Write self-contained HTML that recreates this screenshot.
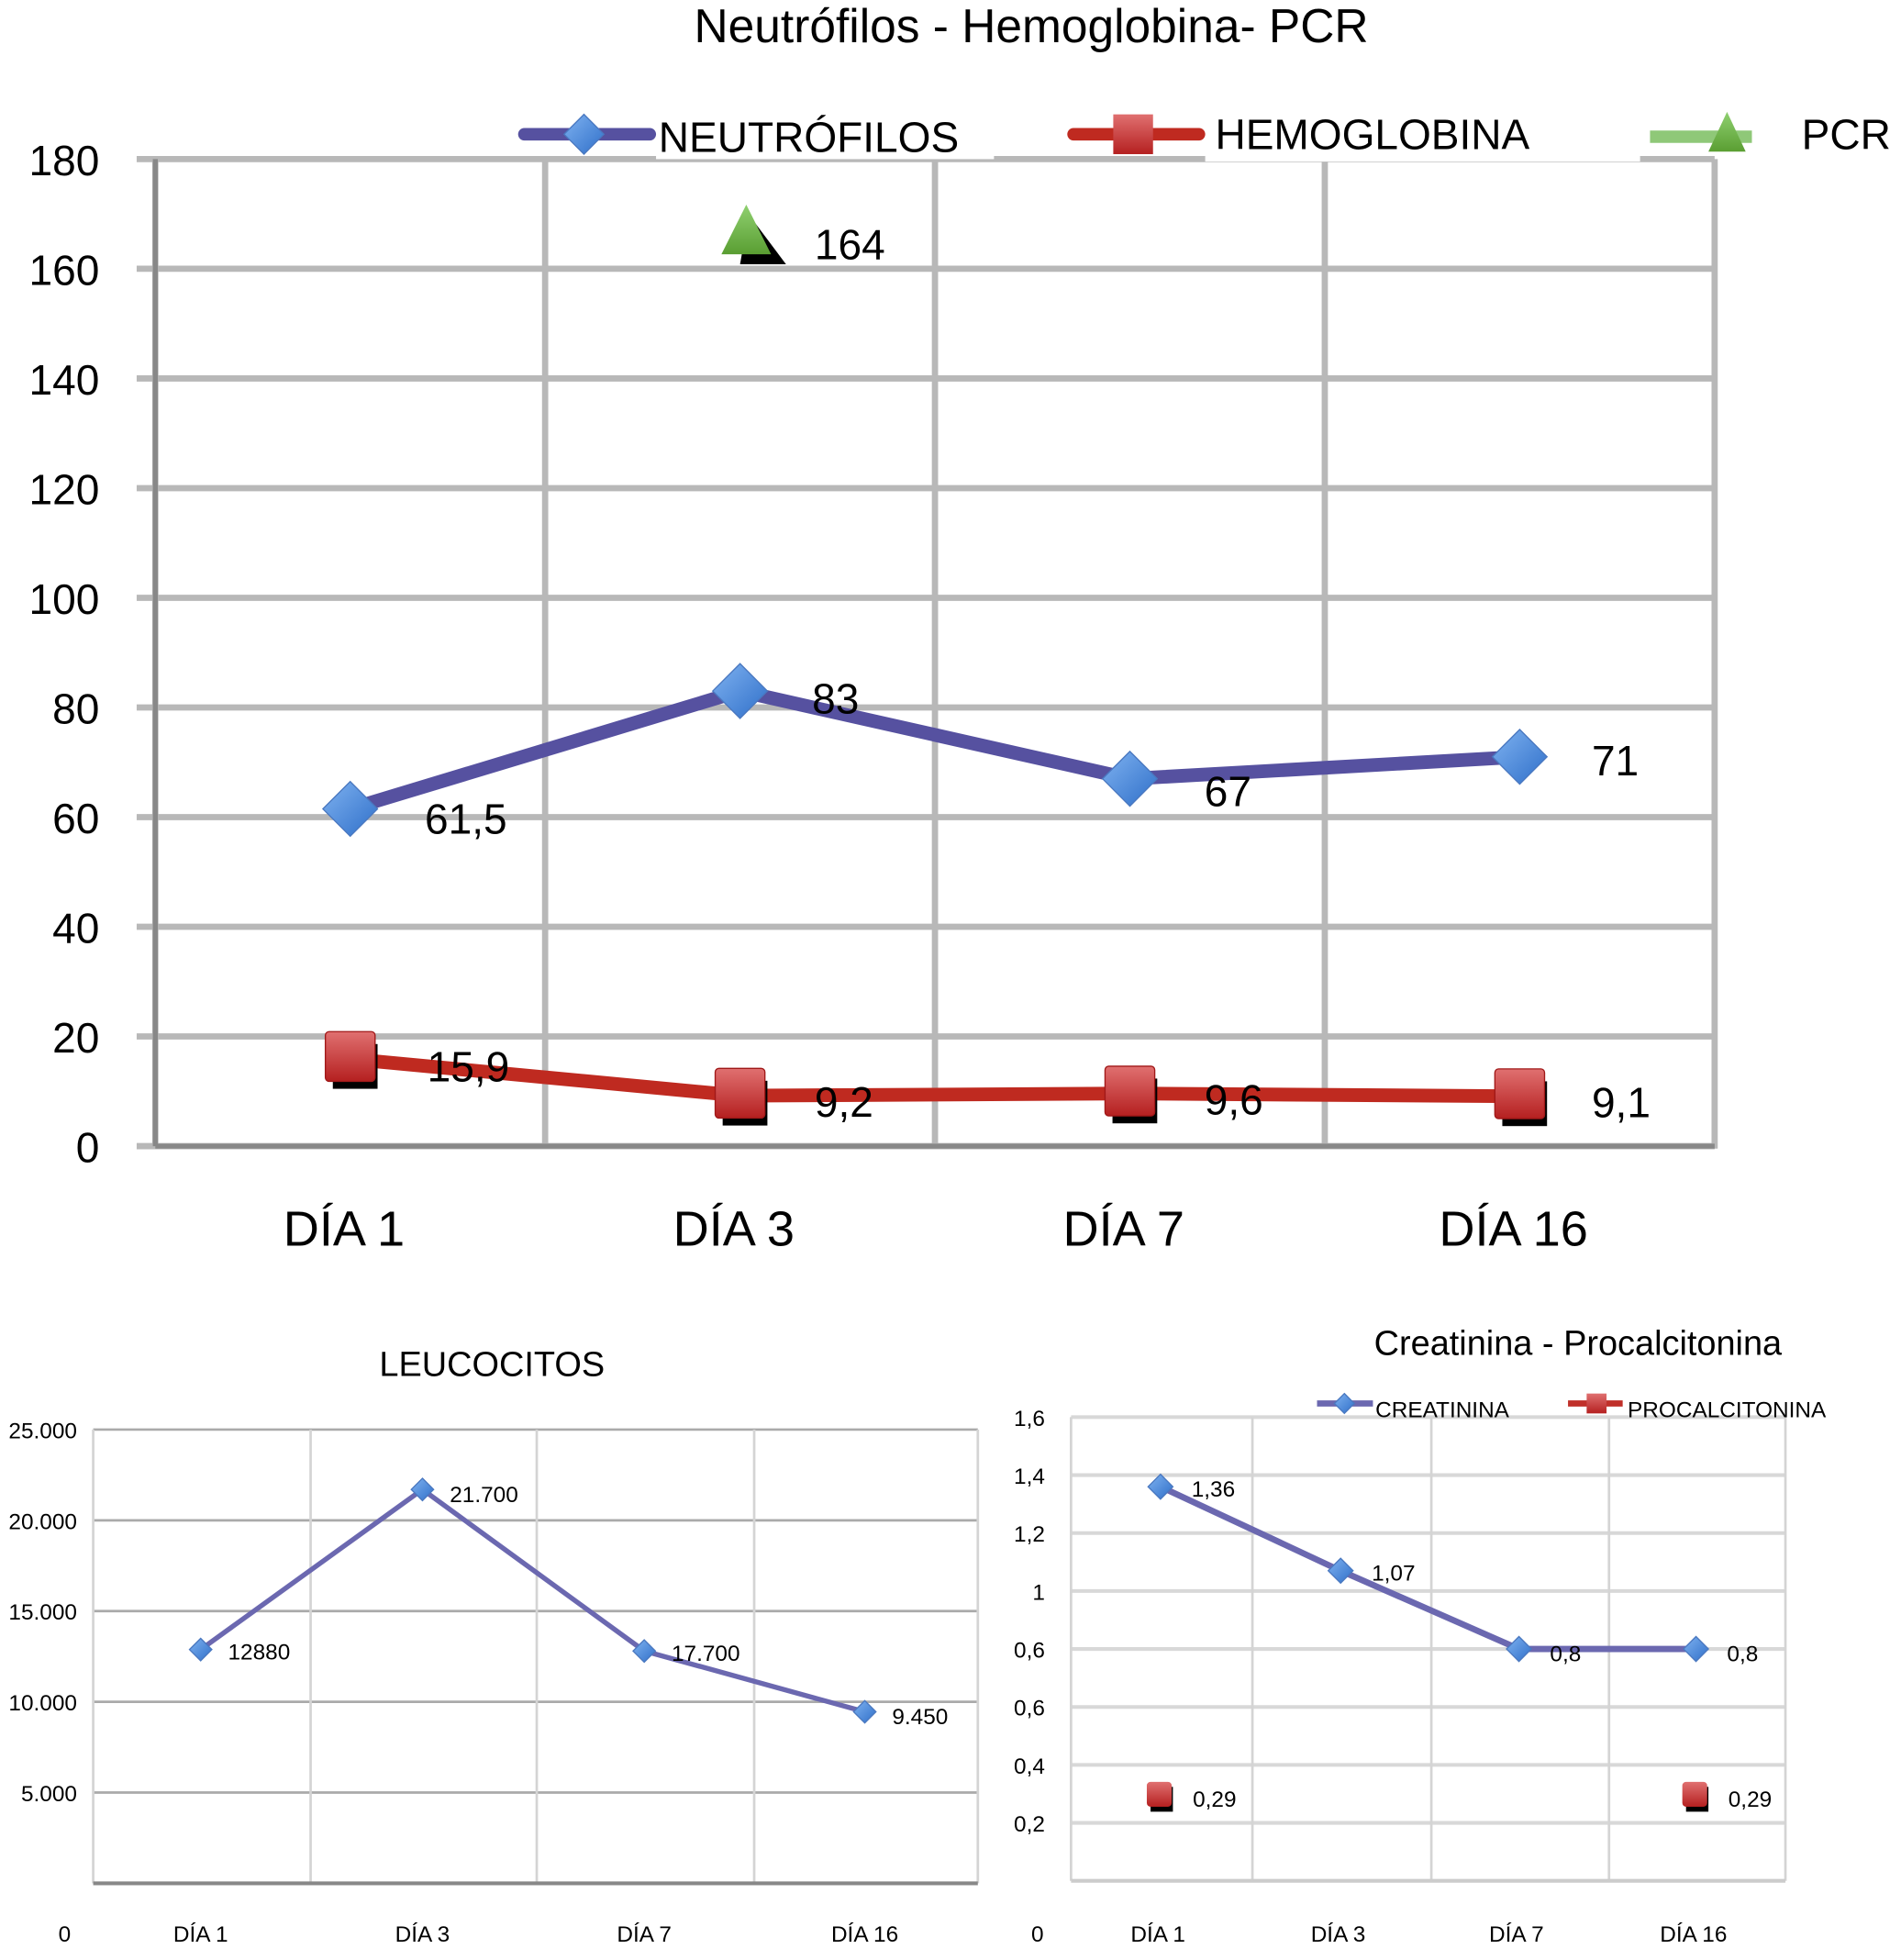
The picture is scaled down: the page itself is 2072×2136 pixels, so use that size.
<!DOCTYPE html>
<html><head><meta charset="utf-8"><style>
html,body{margin:0;padding:0;background:#fff}
svg text{font-family:"Liberation Sans",sans-serif;fill:#000}
</style></head><body>
<svg id="svg" width="2072" height="2131" viewBox="0 0 1530 1573" preserveAspectRatio="none" xmlns="http://www.w3.org/2000/svg">
<defs>
<linearGradient id="gb" x1="0" y1="0" x2="1" y2="1"><stop offset="0" stop-color="#7fb2f0"/><stop offset="1" stop-color="#2f6fc9"/></linearGradient>
<linearGradient id="gr" x1="0" y1="0" x2="0" y2="1"><stop offset="0" stop-color="#e07070"/><stop offset="1" stop-color="#b52020"/></linearGradient>
<linearGradient id="gg" x1="0" y1="0" x2="0" y2="1"><stop offset="0" stop-color="#8fd070"/><stop offset="1" stop-color="#5a9e32"/></linearGradient>
</defs>
<g id="g1"></g>
<g id="g2"></g>
<g id="g3"></g>
</svg>
<script>
const cats=["DÍA 1","DÍA 3","DÍA 7","DÍA 16"];
const neutVals=[61.5,83,67,71];
const neutLabels=["61,5","83","67","71"];
const hemoVals=[15.9,9.2,9.6,9.1];
const hemoLabels=["15,9","9,2","9,6","9,1"];
const pcrVals=[null,164,null,null];
const pcrLabels=["","164","",""];
const topTicks=[0,20,40,60,80,100,120,140,160,180];
const leuVals=[12880,21700,12800,9450];
const leuLabels=["12880","21.700","17.700","9.450"];
const leuTicks=[5000,10000,15000,20000,25000];
const leuTickLabels=["5.000","10.000","15.000","20.000","25.000"];
const creVals=[1.36,1.07,0.8,0.8];
const creLabels=["1,36","1,07","0,8","0,8"];
const pctVals=[0.29,null,null,0.29];
const pctLabels=["0,29","","","0,29"];
const creTicks=[0.2,0.4,0.6,0.8,1,1.2,1.4,1.6];
const creTickLabels=["0,2","0,4","0,6","0,6","1","1,2","1,4","1,6"];

const NS="http://www.w3.org/2000/svg";
function mk(p,t,a,txt){const e=document.createElementNS(NS,t);for(const k in a)e.setAttribute(k,a[k]);if(txt!==undefined)e.textContent=txt;p.appendChild(e);return e;}
function diamond(p,x,y,r,fill){return mk(p,"polygon",{points:`${x},${y-r} ${x+r},${y} ${x},${y+r} ${x-r},${y}`,fill:fill,stroke:"#4a78c0","stroke-width":1});}

// ---- Top chart
(function(){
const g=document.getElementById("g1");
const L=125,R=1380,T=128,B=922,max=180;
const y=v=>B-(v/max)*(B-T);
const cw=(R-L)/cats.length;
const x=i=>L+cw*(i+0.5);
let e=mk(g,"text",{x:830,y:34,"font-size":38,"text-anchor":"middle"},"Neutrófilos - Hemoglobina- PCR");


topTicks.forEach(v=>{
 let l=mk(g,"line",{x1:110,x2:R,y1:y(v),y2:y(v),stroke:"#b8b8b8","stroke-width":5});
 
 
 let t=mk(g,"text",{x:80,y:y(v)+13,"font-size":34,"text-anchor":"end"},String(v));
 
 
});
for(let i=0;i<=cats.length;i++){
 let l=mk(g,"line",{x1:L+cw*i,x2:L+cw*i,y1:T,y2:B+2,stroke:"#b8b8b8","stroke-width":5});
 
 
}
mk(g,"line",{x1:L,x2:L,y1:T,y2:B,stroke:"#888","stroke-width":4});
mk(g,"line",{x1:L,x2:R,y1:B,y2:B,stroke:"#888","stroke-width":4});
cats.forEach((c,i)=>{
 let t=mk(g,"text",{x:x(i)-5,y:1002,"font-size":40,"text-anchor":"middle"},c);
 
 
});
// neut line
let pts=neutVals.map((v,i)=>`${x(i)},${y(v)}`).join(" ");
let pl=mk(g,"polyline",{points:pts,fill:"none",stroke:"#5651a0","stroke-width":11,"stroke-linejoin":"round"});


neutVals.forEach((v,i)=>{
 let d=diamond(g,x(i),y(v),22,"url(#gb)");
 
 
 let t=mk(g,"text",{x:x(i)+(i==3?58:i==1?58:60),y:y(v)+(i==0?20:i==2?22:i==1?18:15),"font-size":34},neutLabels[i]);
 
 
});
// hemo
pts=hemoVals.map((v,i)=>`${x(i)},${y(v)}`).join(" ");
pl=mk(g,"polyline",{points:pts,fill:"none",stroke:"#bf2a20","stroke-width":11});


hemoVals.forEach((v,i)=>{
 mk(g,"rect",{x:x(i)-14,y:y(v)-12,width:36,height:36,fill:"#000"});
 let r=mk(g,"rect",{x:x(i)-20,y:y(v)-22,width:40,height:40,fill:"url(#gr)",stroke:"#a01818","stroke-width":1,rx:3});
 
 
 let t=mk(g,"text",{x:x(i)+(i==0?62:i==3?58:60),y:y(v)+(i==0?18:17),"font-size":34},hemoLabels[i]);
 
 
});
// pcr
pcrVals.forEach((v,i)=>{
 if(v==null)return;
 const cx=x(i)+5,cy=y(v);
 mk(g,"polygon",{points:`${cx+2},${cy-26} ${cx+32},${cy+14} ${cx-5},${cy+14}`,fill:"#000"});
 let p=mk(g,"polygon",{points:`${cx},${cy-34} ${cx+20},${cy+6} ${cx-20},${cy+6}`,fill:"url(#gg)"});
 
 
 let t=mk(g,"text",{x:cx+55,y:cy+10,"font-size":34},pcrLabels[i]);
 
 
});
// legend
mk(g,"rect",{x:528,y:88,width:272,height:40,fill:"#fff"});
mk(g,"rect",{x:970,y:88,width:350,height:42,fill:"#fff"});
mk(g,"rect",{x:1440,y:88,width:90,height:42,fill:"#fff"});
let lg=mk(g,"g",{});


mk(lg,"line",{x1:422,x2:523,y1:108,y2:108,stroke:"#5651a0","stroke-width":10,"stroke-linecap":"round"});
diamond(lg,470,108,16,"url(#gb)");
let t=mk(lg,"text",{x:530,y:122,"font-size":34},"NEUTRÓFILOS");


mk(lg,"line",{x1:864,x2:965,y1:108,y2:108,stroke:"#bf2a20","stroke-width":10,"stroke-linecap":"round"});
mk(lg,"rect",{x:896,y:92,width:32,height:32,fill:"url(#gr)"});
t=mk(lg,"text",{x:978,y:120,"font-size":34},"HEMOGLOBINA");


mk(lg,"line",{x1:1328,x2:1410,y1:110,y2:110,stroke:"#8fc878","stroke-width":10});
mk(lg,"polygon",{points:"1390,90 1405,122 1375,122",fill:"url(#gg)"});
t=mk(lg,"text",{x:1450,y:120,"font-size":34},"PCR");


})();

// ---- Leucocitos
(function(){
const g=document.getElementById("g2");
const L=75,R=787,T=1150,B=1515,max=25000;
const y=v=>B-(v/max)*(B-T);
const vx=[75,250,432,607,787];
const x=i=>(vx[i]+vx[i+1])/2-1;
let e=mk(g,"text",{x:396,y:1107,"font-size":28,"text-anchor":"middle"},"LEUCOCITOS");


leuTicks.forEach((v,k)=>{
 let l=mk(g,"line",{x1:L,x2:R,y1:y(v),y2:y(v),stroke:"#aaa","stroke-width":2});
 
 
 let t=mk(g,"text",{x:62,y:y(v)+7,"font-size":18,"text-anchor":"end"},leuTickLabels[k]);
 
 
});
vx.forEach(v=>mk(g,"line",{x1:v,x2:v,y1:T,y2:B,stroke:"#d4d4d4","stroke-width":2}));
mk(g,"line",{x1:L,x2:R,y1:B,y2:B,stroke:"#888","stroke-width":3});
let z=mk(g,"text",{x:52,y:1562,"font-size":18,"text-anchor":"middle"},"0");


cats.forEach((c,i)=>{
 let t=mk(g,"text",{x:x(i),y:1562,"font-size":18,"text-anchor":"middle"},c);
 
 
});
let pl=mk(g,"polyline",{points:leuVals.map((v,i)=>`${x(i)},${y(v)}`).join(" "),fill:"none",stroke:"#6b68b0","stroke-width":4});


leuVals.forEach((v,i)=>{
 let d=diamond(g,x(i),y(v),9,"url(#gb)");
 
 
 let t=mk(g,"text",{x:x(i)+22,y:y(v)+(i==1?10:i==3?10:8),"font-size":18},leuLabels[i]);
 
 
});
})();

// ---- Creatinina
(function(){
const g=document.getElementById("g3");
const L=862,R=1437,T=1140,B=1513,max=1.6;
const y=v=>B-(v/max)*(B-T);
const vx=[862,1008,1152,1295,1437];
const x=i=>(vx[i]+vx[i+1])/2-1;
let e=mk(g,"text",{x:1270,y:1090,"font-size":28,"text-anchor":"middle"},"Creatinina - Procalcitonina");


creTicks.forEach((v,k)=>{
 let l=mk(g,"line",{x1:L,x2:R,y1:y(v),y2:y(v),stroke:"#d8d8d8","stroke-width":3});
 
 
 let t=mk(g,"text",{x:841,y:y(v)+7,"font-size":18,"text-anchor":"end"},creTickLabels[k]);
 
 
});
vx.forEach(v=>mk(g,"line",{x1:v,x2:v,y1:T,y2:B,stroke:"#d4d4d4","stroke-width":2}));
mk(g,"line",{x1:L,x2:R,y1:B,y2:B,stroke:"#ccc","stroke-width":3});
let z=mk(g,"text",{x:835,y:1562,"font-size":18,"text-anchor":"middle"},"0");


cats.forEach((c,i)=>{
 let t=mk(g,"text",{x:x(i)-2,y:1562,"font-size":18,"text-anchor":"middle"},c);
 
 
});
let pl=mk(g,"polyline",{points:creVals.map((v,i)=>`${x(i)},${y(v)}`).join(" "),fill:"none",stroke:"#6b68b0","stroke-width":5});


creVals.forEach((v,i)=>{
 let d=diamond(g,x(i),y(v),10,"url(#gb)");
 
 
 let t=mk(g,"text",{x:x(i)+25,y:y(v)+(i<2?8:10),"font-size":18},creLabels[i]);
 
 
});
pctVals.forEach((v,i)=>{
 if(v==null)return;
 mk(g,"rect",{x:x(i)-8,y:y(v)-8,width:18,height:20,fill:"#000"});
 let r=mk(g,"rect",{x:x(i)-11,y:y(v)-12,width:20,height:20,fill:"url(#gr)",rx:3});
 
 
 let t=mk(g,"text",{x:x(i)+26,y:y(v)+8,"font-size":18},pctLabels[i]);
 
 
});
let lg=mk(g,"g",{});


mk(lg,"line",{x1:1060,x2:1105,y1:1129,y2:1129,stroke:"#6b68b0","stroke-width":5});
diamond(lg,1082,1129,8,"url(#gb)");
let t=mk(lg,"text",{x:1107,y:1140,"font-size":18},"CREATININA");


mk(lg,"line",{x1:1262,x2:1306,y1:1129,y2:1129,stroke:"#c0302a","stroke-width":5});
mk(lg,"rect",{x:1277,y:1121,width:16,height:16,fill:"url(#gr)"});
t=mk(lg,"text",{x:1310,y:1140,"font-size":18},"PROCALCITONINA");


})();
</script>
</body></html>
